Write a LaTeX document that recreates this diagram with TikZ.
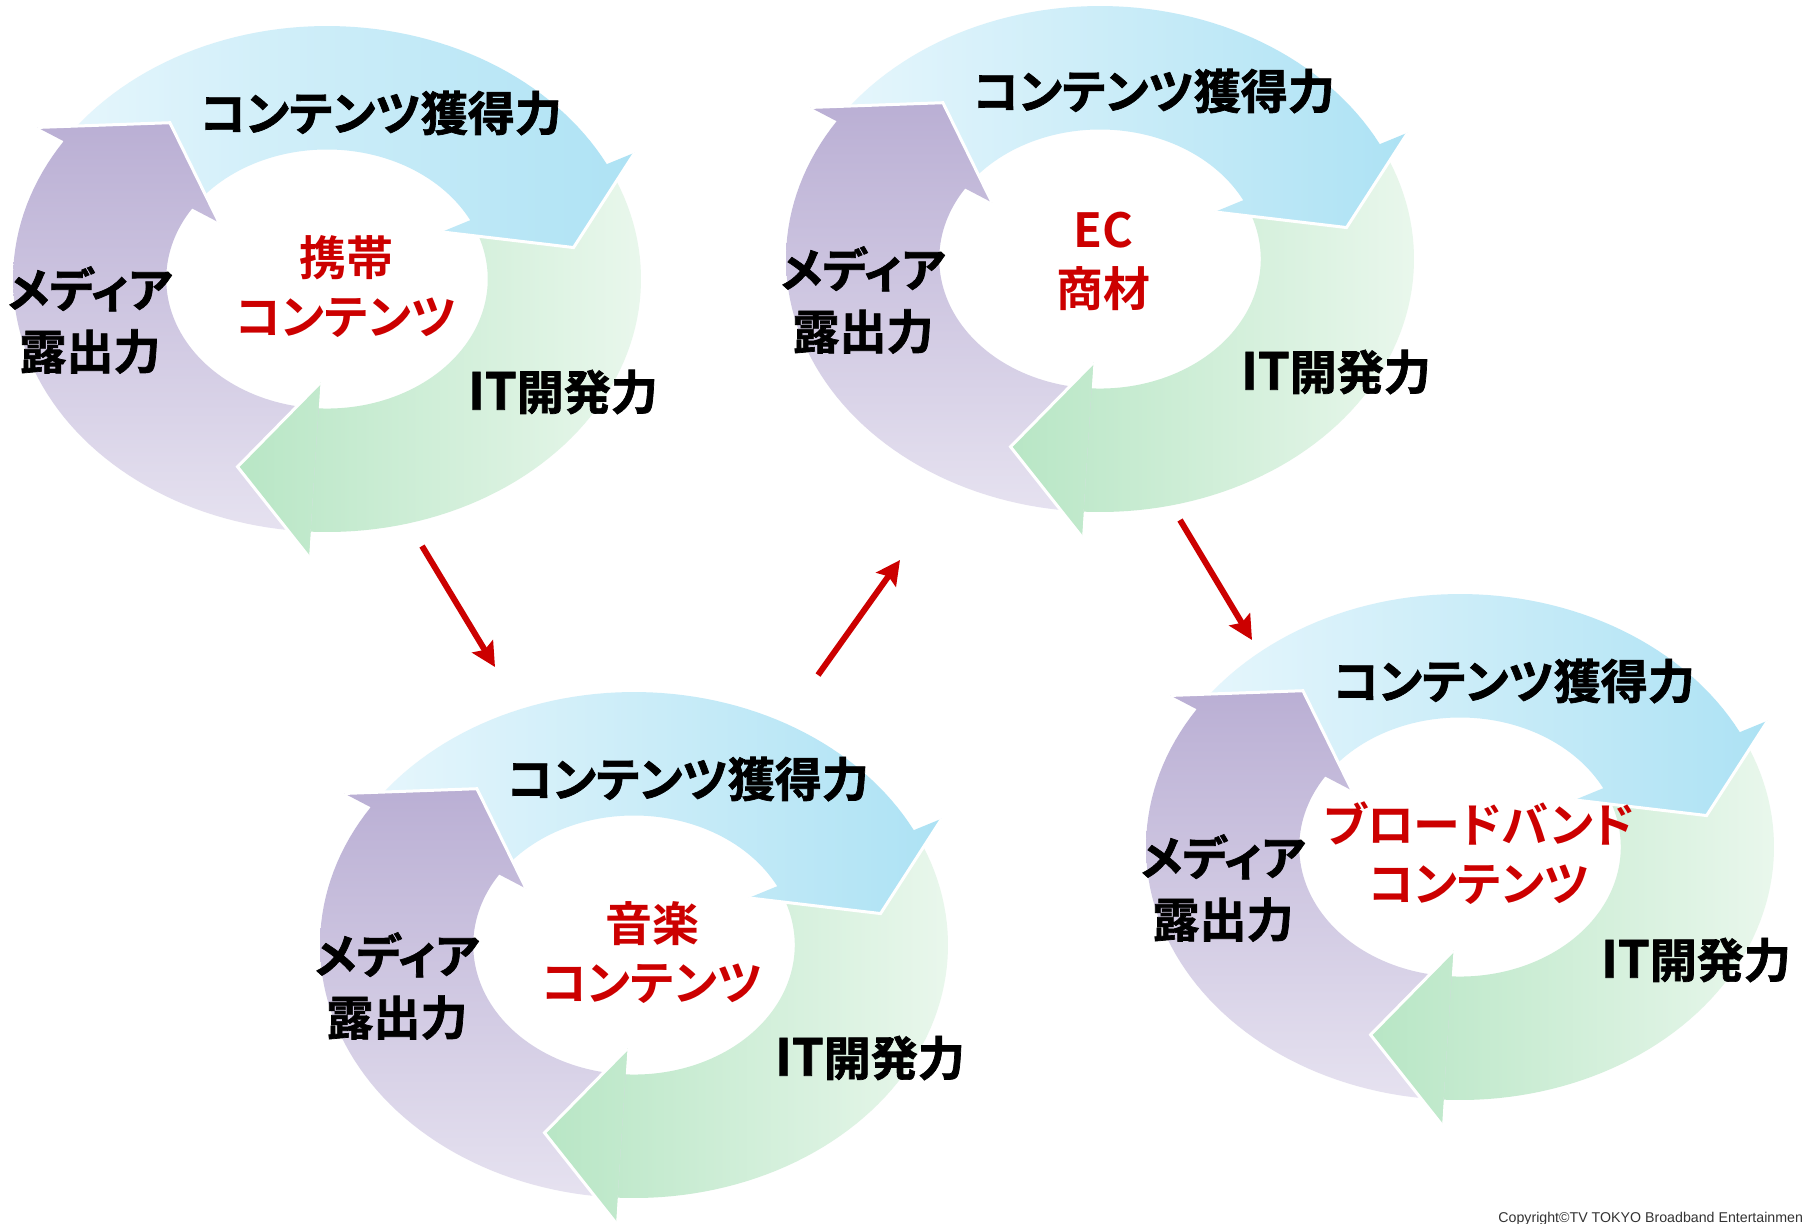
\documentclass[tikz,border=0pt]{standalone}
\usepackage{fontspec}
\usetikzlibrary{arrows.meta}
\newfontfamily\jpheavy{Noto Sans CJK JP Bold}[RawFeature=+palt, FakeBold=1.5]
\newfontfamily\jpbold{Noto Sans CJK JP Bold}[RawFeature=+palt]
\newfontfamily\cpfont{Liberation Sans}
\definecolor{blueL}{HTML}{E6F6FC}
\definecolor{blueR}{HTML}{ADE2F4}
\definecolor{grnL}{HTML}{B8E6C5}
\definecolor{grnR}{HTML}{E9F7EC}
\definecolor{purT}{HTML}{BAAFD4}
\definecolor{purB}{HTML}{E6E2F0}
\definecolor{arrred}{HTML}{CC0000}
\definecolor{cpgray}{HTML}{333333}

% arrow outlines in unit-ellipse coordinates (outer radius 1, inner 0.512)
\def\bluepath{plot[domain=147:27,samples=61,variable=\t]({cos(\t)},{sin(\t)}) -- (27:1.10) -- (9:0.795) -- (27:0.41) -- (27:0.512) -- plot[domain=27:147,samples=61,variable=\t]({0.512*cos(\t)},{0.512*sin(\t)}) -- cycle}
\def\greenpath{plot[domain=27:-93,samples=61,variable=\t]({cos(\t)},{sin(\t)}) -- (-93:1.10) -- (-111:0.795) -- (-93:0.41) -- (-93:0.512) -- plot[domain=-93:27,samples=61,variable=\t]({0.512*cos(\t)},{0.512*sin(\t)}) -- cycle}
\def\purplepath{plot[domain=267:147,samples=61,variable=\t]({cos(\t)},{sin(\t)}) -- (147:1.10) -- (129:0.795) -- (147:0.41) -- (147:0.512) -- plot[domain=147:267,samples=61,variable=\t]({0.512*cos(\t)},{0.512*sin(\t)}) -- cycle}

\tikzset{
  lbl/.style={font=\jpheavy\fontsize{23.5pt}{31pt}\selectfont, text=black, align=center, inner sep=0pt},
  centertext/.style={font=\jpbold\fontsize{23.5pt}{29.5pt}\selectfont, text=arrred, align=center, inner sep=0pt},
  redarrow/.style={draw=arrred, line width=3pt, -{Stealth[length=12pt,width=12pt,inset=2pt]}},
  headedge/.style={draw=white, line width=1.5pt},
  blueshade/.style={left color=blueL, right color=blueR},
  greenshade/.style={left color=grnL, right color=grnR},
  purpleshade/.style={top color=purT, bottom color=purB},
}
\newcommand\itlabel{{\fontsize{25.5pt}{31pt}\selectfont IT}開発力}

\newcommand\drawcycle[1]{%
  \begin{scope}[shift={#1}]
  \begin{scope}[x=157pt, y=126.5pt]
    \shade[greenshade] \greenpath;
    \shade[blueshade] \bluepath;
    \shade[purpleshade] \purplepath;
    \begin{scope}
      \clip (-93:1.10) -- (-111:0.795) -- (-93:0.41) -- cycle;
      \shade[greenshade] \greenpath;
    \end{scope}
    \draw[headedge] (27:1.10) -- (9:0.795) -- (27:0.41);
    \draw[headedge] (147:1.10) -- (129:0.795) -- (147:0.41);
    \draw[headedge] (-93:1.10) -- (-111:0.795) -- (-93:0.41);
  \end{scope}
  \end{scope}}

\begin{document}
\begin{tikzpicture}[x=0.5pt, y=-0.5pt]
  \fill[white] (0,0) rectangle (1802,1223);
  \useasboundingbox (0,0) rectangle (1802,1223);

  % cycles
  \drawcycle{(327,279)}
  \drawcycle{(634,945)}
  \drawcycle{(1100,259)}
  \drawcycle{(1460,847)}

  % cycle 1
  \node[lbl] (c1top) at (381,113) {コンテンツ獲得力};
  \node[lbl] (c1left) at (90,320) {メディア\\露出力};
  \node[lbl] (c1right) at (563,392) {\itlabel};
  \node[centertext] (c1mid) at (346,287) {携帯\\コンテンツ};

  % cycle 2
  \node[lbl] (c2top) at (688,779) {コンテンツ獲得力};
  \node[lbl] (c2left) at (397,986) {メディア\\露出力};
  \node[lbl] (c2right) at (870,1058) {\itlabel};
  \node[centertext] (c2mid) at (652,953) {音楽\\コンテンツ};

  % cycle 3
  \node[lbl] (c3top) at (1154,91) {コンテンツ獲得力};
  \node[lbl] (c3left) at (863,300) {メディア\\露出力};
  \node[lbl] (c3right) at (1336,372) {\itlabel};
  \node[centertext] (c3mid) at (1103,261) {EC\\商材};

  % cycle 4
  \node[lbl] (c4top) at (1514,681) {コンテンツ獲得力};
  \node[lbl] (c4left) at (1223,888) {メディア\\露出力};
  \node[lbl] (c4right) at (1696,960) {\itlabel};
  \node[centertext] (c4mid) at (1479,853) {ブロードバンド\\コンテンツ};

  % red transition arrows
  \coordinate (a1s) at (422,546);
  \coordinate (a1e) at (495,667);
  \coordinate (a2s) at (818,675);
  \coordinate (a2e) at (900,560);
  \coordinate (a3s) at (1180,520);
  \coordinate (a3e) at (1252,640);
  \draw[redarrow] (a1s) -- (a1e);
  \draw[redarrow] (a2s) -- (a2e);
  \draw[redarrow] (a3s) -- (a3e);

  % copyright
  \node[anchor=base west, inner sep=0pt, text=cpgray, font=\cpfont\fontsize{7.1pt}{8pt}\selectfont] (copy) at (1498,1222) {Copyright©TV TOKYO Broadband Entertainment};
\end{tikzpicture}
\end{document}
